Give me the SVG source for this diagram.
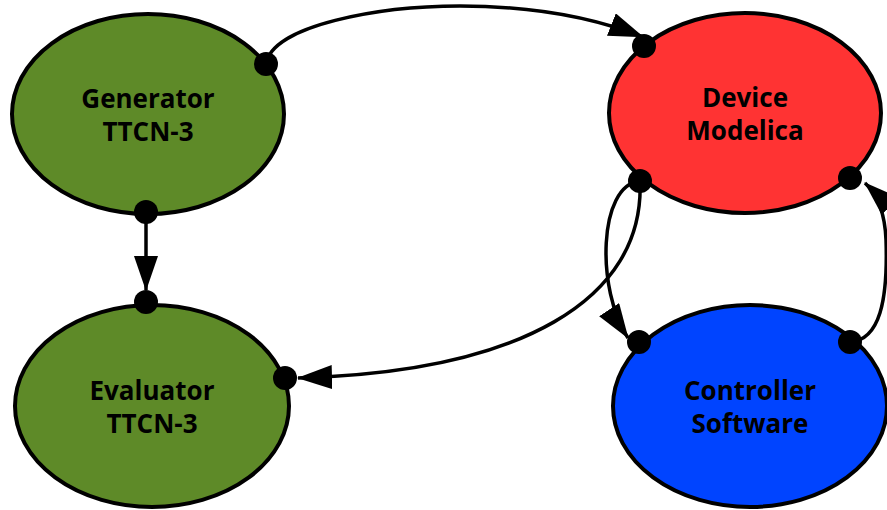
<svg xmlns="http://www.w3.org/2000/svg" width="887" height="510" viewBox="0 0 887 510">
<style>
.node ellipse{stroke:#000;stroke-width:4}
.green{fill:#5e8a28}
.red{fill:#ff3333}
.blue{fill:#0044ff}
.lbl{font-family:"Open Sans","Noto Sans","Liberation Sans",sans-serif;font-weight:bold;font-size:26px;text-anchor:middle;fill:#000}
.dot{fill:#000}
.edge{fill:none;stroke:#000;stroke-width:3.5;marker-end:url(#arr)}
</style>
<defs>
<marker id="arr" markerUnits="userSpaceOnUse" markerWidth="36" markerHeight="26" refX="34" refY="12" orient="auto">
<path d="M0,0 L35,12 L0,24 z" fill="#000"/>
</marker>
</defs>
<rect width="887" height="510" fill="#fff"/>
<g id="generator" class="node">
<ellipse class="green" cx="148" cy="114" rx="136" ry="100"/>
<text class="lbl" x="148" y="108">Generator</text>
<text class="lbl" x="148" y="141">TTCN-3</text>
</g>
<g id="evaluator" class="node">
<ellipse class="green" cx="152" cy="406" rx="137" ry="101"/>
<text class="lbl" x="152" y="400">Evaluator</text>
<text class="lbl" x="152" y="433">TTCN-3</text>
</g>
<g id="device" class="node">
<ellipse class="red" cx="745" cy="113" rx="136" ry="100"/>
<text class="lbl" x="745" y="107">Device</text>
<text class="lbl" x="745" y="140">Modelica</text>
</g>
<g id="controller" class="node">
<ellipse class="blue" cx="750" cy="406" rx="137" ry="101"/>
<text class="lbl" x="750" y="400">Controller</text>
<text class="lbl" x="750" y="433">Software</text>
</g>
<g id="connectors">
<path class="edge" d="M266,64 C272,25 380,6 460,6 C540,6 600,20 643,37"/>
<path class="edge" d="M146,212 L146,290"/>
<path class="edge" d="M640,181 C645,300 520,372 298,378"/>
<path class="edge" d="M640,181 C598,185 596,290 628,338"/>
<path class="edge" d="M850,342 C880,340 888,300 886,240 C885,215 878,195 865,183"/>
</g>
<g id="ports">
<circle class="dot" cx="266" cy="64" r="12"/>
<circle class="dot" cx="146" cy="212" r="12"/>
<circle class="dot" cx="146" cy="302" r="12"/>
<circle class="dot" cx="285" cy="378" r="12"/>
<circle class="dot" cx="644" cy="46" r="12"/>
<circle class="dot" cx="640" cy="181" r="12"/>
<circle class="dot" cx="850" cy="178" r="12"/>
<circle class="dot" cx="639" cy="342" r="12"/>
<circle class="dot" cx="850" cy="342" r="12"/>
</g>
</svg>
